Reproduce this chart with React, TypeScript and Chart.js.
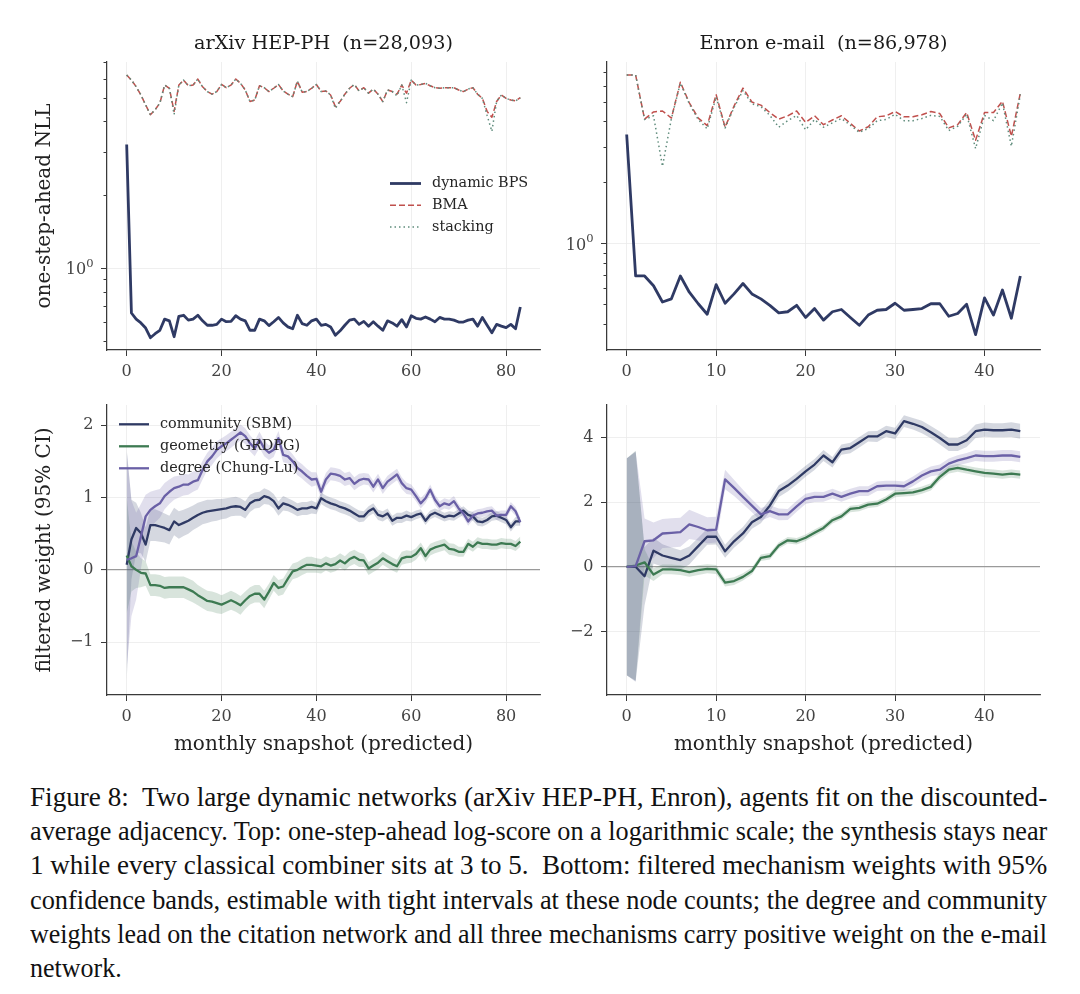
import React, { useEffect, useLayoutEffect, useRef } from 'react';
import { Chart, registerables } from 'chart.js';

Chart.register(...registerables);

// ---------------- data ----------------
const ARXIV_X_TICKS = [0, 20, 40, 60, 80];
const ENRON_X_TICKS = [0, 10, 20, 30, 40];
const LOG_TICKS_ARXIV = [0.5, 0.6, 0.7, 0.8, 0.9, 1, 2, 3, 4, 5, 6, 7];
const LOG_TICKS_ENRON = [0.4, 0.5, 0.6, 0.7, 0.8, 0.9, 1, 2, 3, 4, 5, 6, 7];
const LOG_MAJOR_LABEL = { base: '10', exp: '0' };
const W_TICKS_ARXIV = [-1, 0, 1, 2];
const W_TICKS_ENRON = [-2, 0, 2, 4];

const ARXIV_BPS = [
  3.23, 0.657, 0.62, 0.598, 0.57, 0.52, 0.54, 0.558, 0.62, 0.61,
  0.525, 0.637, 0.643, 0.614, 0.62, 0.643, 0.61, 0.585, 0.585, 0.59,
  0.62, 0.605, 0.607, 0.64, 0.62, 0.61, 0.558, 0.558, 0.62, 0.61,
  0.583, 0.605, 0.63, 0.598, 0.576, 0.566, 0.643, 0.594, 0.585, 0.61,
  0.62, 0.585, 0.59, 0.576, 0.532, 0.555, 0.585, 0.614, 0.62, 0.59,
  0.607, 0.58, 0.605, 0.58, 0.558, 0.61, 0.598, 0.58, 0.617, 0.576,
  0.64, 0.625, 0.62, 0.633, 0.62, 0.605, 0.63, 0.62, 0.62, 0.614,
  0.603, 0.603, 0.614, 0.62, 0.58, 0.63, 0.585, 0.545, 0.59, 0.58,
  0.572, 0.59, 0.566, 0.695,
];
const ARXIV_BMA = [
  6.23, 5.94, 5.58, 5.16, 4.70, 4.28, 4.49, 4.78, 5.67, 5.50,
  4.42, 5.67, 5.94, 5.63, 5.67, 6.00, 5.58, 5.33, 5.20, 5.33,
  5.70, 5.53, 5.67, 6.00, 5.76, 5.41, 4.85, 4.92, 5.63, 5.53,
  5.33, 5.50, 5.70, 5.36, 5.20, 5.08, 5.88, 5.30, 5.33, 5.50,
  5.70, 5.33, 5.36, 5.16, 4.63, 4.85, 5.20, 5.50, 5.70, 5.36,
  5.53, 5.25, 5.46, 5.20, 4.85, 5.41, 5.33, 5.20, 5.67, 5.25,
  5.94, 5.67, 5.70, 5.76, 5.63, 5.53, 5.50, 5.53, 5.53, 5.53,
  5.41, 5.33, 5.46, 5.53, 5.20, 5.00, 4.42, 4.18, 4.85, 5.16,
  5.00, 4.92, 4.88, 5.03,
];
const ARXIV_STACK = [
  6.23, 5.94, 5.58, 5.16, 4.70, 4.28, 4.49, 4.78, 5.67, 5.50,
  4.30, 5.67, 5.94, 5.63, 5.67, 6.00, 5.58, 5.33, 5.20, 5.33,
  5.70, 5.53, 5.67, 6.00, 5.76, 5.41, 4.85, 4.92, 5.63, 5.53,
  5.33, 5.50, 5.70, 5.36, 5.20, 5.08, 5.88, 5.30, 5.33, 5.50,
  5.70, 5.33, 5.36, 5.16, 4.55, 4.85, 5.20, 5.50, 5.70, 5.36,
  5.53, 5.25, 5.46, 5.20, 4.85, 5.41, 5.33, 5.12, 5.67, 4.80,
  5.94, 5.67, 5.70, 5.76, 5.63, 5.53, 5.50, 5.53, 5.53, 5.53,
  5.41, 5.33, 5.46, 5.53, 5.20, 5.00, 4.25, 3.66, 4.85, 5.16,
  5.00, 4.92, 4.88, 5.03,
];

const ENRON_BPS = [
  3.46, 0.695, 0.695, 0.622, 0.517, 0.536, 0.695, 0.578, 0.507, 0.45,
  0.63, 0.51, 0.567, 0.638, 0.567, 0.536, 0.498, 0.457, 0.463, 0.498,
  0.434, 0.48, 0.421, 0.463, 0.475, 0.434, 0.397, 0.446, 0.471, 0.475,
  0.51, 0.471, 0.475, 0.48, 0.507, 0.507, 0.44, 0.454, 0.504, 0.357,
  0.542, 0.446, 0.593, 0.43, 0.695,
];
const ENRON_BMA = [
  6.80, 6.80, 4.12, 4.47, 4.52, 4.17, 6.27, 4.96, 4.17, 3.83,
  5.44, 3.76, 4.78, 5.86, 5.00, 4.83, 4.44, 4.12, 4.28, 4.52,
  3.97, 4.28, 3.87, 4.08, 4.28, 3.93, 3.60, 3.78, 4.23, 4.28,
  4.49, 4.23, 4.23, 4.33, 4.49, 4.39, 3.73, 3.87, 4.44, 3.24,
  4.44, 4.44, 5.05, 3.39, 5.53,
];
const ENRON_STACK = [
  6.80, 6.80, 4.10, 4.28, 2.41, 4.15, 6.20, 4.90, 4.10, 3.69,
  5.30, 3.73, 4.70, 5.70, 4.90, 4.75, 4.30, 3.76, 4.05, 4.30,
  3.65, 4.10, 3.76, 3.95, 4.15, 3.85, 3.55, 3.70, 4.05, 4.10,
  4.35, 4.05, 4.05, 4.15, 4.30, 4.25, 3.62, 3.80, 4.35, 2.95,
  4.30, 4.05, 4.95, 3.03, 5.45,
];

const ARXIV_COMM = [
  0.07, 0.42, 0.58, 0.51, 0.35, 0.62, 0.62, 0.60, 0.58, 0.55,
  0.67, 0.62, 0.65, 0.68, 0.72, 0.76, 0.79, 0.81, 0.82, 0.83,
  0.84, 0.85, 0.87, 0.88, 0.87, 0.83, 0.92, 0.96, 0.97, 1.02,
  1.00, 0.95, 0.85, 0.92, 0.90, 0.87, 0.83, 0.85, 0.85, 0.87,
  0.85, 0.99, 0.95, 0.92, 0.90, 0.87, 0.85, 0.82, 0.78, 0.74,
  0.74, 0.81, 0.85, 0.76, 0.74, 0.78, 0.68, 0.72, 0.72, 0.75,
  0.73, 0.76, 0.78, 0.68, 0.76, 0.79, 0.76, 0.73, 0.75, 0.74,
  0.78, 0.82, 0.76, 0.74, 0.67, 0.66, 0.69, 0.74, 0.75, 0.72,
  0.69, 0.59, 0.67, 0.67,
];
const ARXIV_GEOM = [
  0.20, 0.05, 0.00, -0.04, -0.05, -0.21, -0.21, -0.22, -0.25, -0.24,
  -0.24, -0.24, -0.24, -0.27, -0.30, -0.35, -0.39, -0.43, -0.44, -0.46,
  -0.48, -0.45, -0.42, -0.45, -0.49, -0.42, -0.36, -0.33, -0.33, -0.41,
  -0.30, -0.18, -0.25, -0.23, -0.12, -0.02, 0.00, 0.04, 0.07, 0.07,
  0.06, 0.05, 0.09, 0.06, 0.08, 0.13, 0.09, 0.15, 0.18, 0.14,
  0.13, 0.02, 0.06, 0.10, 0.16, 0.12, 0.08, 0.05, 0.16, 0.18,
  0.18, 0.22, 0.30, 0.19, 0.28, 0.31, 0.33, 0.35, 0.29, 0.28,
  0.25, 0.25, 0.36, 0.32, 0.38, 0.36, 0.36, 0.35, 0.35, 0.37,
  0.36, 0.36, 0.33, 0.39,
];
const ARXIV_DEG = [
  0.14, 0.16, 0.19, 0.46, 0.74, 0.83, 0.88, 0.92, 1.02, 1.08,
  1.13, 1.15, 1.18, 1.18, 1.22, 1.24, 1.38, 1.50, 1.57, 1.66,
  1.71, 1.75, 1.80, 1.85, 1.90, 1.85, 1.75, 1.68, 1.80, 1.68,
  1.62, 1.66, 1.82, 1.59, 1.57, 1.50, 1.41, 1.36, 1.30, 1.25,
  1.26, 1.08, 1.25, 1.33, 1.32, 1.30, 1.25, 1.27, 1.19, 1.24,
  1.26, 1.25, 1.15, 1.25, 1.13, 1.22, 1.27, 1.32, 1.20, 1.13,
  1.11, 1.02, 0.92, 0.99, 1.11, 0.97, 0.88, 0.92, 0.90, 0.95,
  0.85, 0.78, 0.67, 0.75, 0.78, 0.79, 0.81, 0.82, 0.75, 0.76,
  0.76, 0.88, 0.81, 0.66,
];
const ARXIV_COMM_HW = [
  1.60, 0.55, 0.35, 0.28, 0.24, 0.22, 0.22, 0.21, 0.20, 0.20,
  0.19, 0.19, 0.18, 0.18, 0.17, 0.17, 0.16, 0.16, 0.15, 0.15,
  0.14, 0.14, 0.13, 0.13, 0.12, 0.12, 0.12, 0.11, 0.11, 0.11,
  0.10, 0.10, 0.10, 0.10, 0.09, 0.09, 0.09, 0.09, 0.09, 0.09,
  0.08, 0.08, 0.08, 0.08, 0.08, 0.08, 0.08, 0.08, 0.08, 0.08,
  0.07, 0.07, 0.07, 0.07, 0.07, 0.07, 0.07, 0.07, 0.07, 0.07,
  0.06, 0.06, 0.06, 0.06, 0.06, 0.06, 0.06, 0.06, 0.06, 0.06,
  0.06, 0.06, 0.06, 0.06, 0.06, 0.06, 0.06, 0.06, 0.06, 0.06,
  0.06, 0.06, 0.06, 0.06,
];
const ARXIV_GEOM_HW = [
  0.80, 0.35, 0.25, 0.20, 0.17, 0.15, 0.15, 0.15, 0.15, 0.15,
  0.15, 0.15, 0.15, 0.15, 0.15, 0.14, 0.14, 0.14, 0.14, 0.14,
  0.13, 0.13, 0.13, 0.13, 0.13, 0.12, 0.12, 0.12, 0.12, 0.12,
  0.11, 0.11, 0.11, 0.11, 0.11, 0.11, 0.11, 0.11, 0.11, 0.11,
  0.10, 0.10, 0.10, 0.10, 0.10, 0.10, 0.10, 0.10, 0.10, 0.10,
  0.09, 0.09, 0.09, 0.09, 0.09, 0.09, 0.09, 0.09, 0.09, 0.09,
  0.08, 0.08, 0.08, 0.08, 0.08, 0.08, 0.08, 0.08, 0.08, 0.08,
  0.07, 0.07, 0.07, 0.07, 0.07, 0.07, 0.07, 0.07, 0.07, 0.07,
  0.07, 0.07, 0.07, 0.07,
];
const ARXIV_DEG_HW = [
  1.50, 0.80, 0.60, 0.45, 0.30, 0.25, 0.22, 0.20, 0.18, 0.17,
  0.16, 0.15, 0.15, 0.14, 0.14, 0.13, 0.13, 0.12, 0.12, 0.12,
  0.11, 0.11, 0.11, 0.11, 0.11, 0.11, 0.11, 0.11, 0.11, 0.11,
  0.10, 0.10, 0.10, 0.10, 0.10, 0.10, 0.10, 0.10, 0.10, 0.10,
  0.09, 0.09, 0.09, 0.09, 0.09, 0.09, 0.09, 0.09, 0.09, 0.09,
  0.08, 0.08, 0.08, 0.08, 0.08, 0.08, 0.08, 0.08, 0.08, 0.08,
  0.07, 0.07, 0.07, 0.07, 0.07, 0.07, 0.07, 0.07, 0.07, 0.07,
  0.06, 0.06, 0.06, 0.06, 0.06, 0.06, 0.06, 0.06, 0.06, 0.06,
  0.06, 0.06, 0.06, 0.06,
];

const ENRON_COMM = [
  0.00, 0.00, -0.29, 0.50, 0.35, 0.28, 0.21, 0.35, 0.64, 0.93,
  0.93, 0.48, 0.79, 1.03, 1.38, 1.54, 1.89, 2.34, 2.51, 2.72,
  2.95, 3.16, 3.44, 3.23, 3.62, 3.67, 3.85, 4.03, 4.03, 4.19,
  4.12, 4.50, 4.42, 4.32, 4.16, 3.98, 3.78, 3.78, 3.91, 4.19,
  4.24, 4.22, 4.22, 4.24, 4.19,
];
const ENRON_GEOM = [
  0.00, 0.04, 0.14, -0.24, -0.08, -0.08, -0.10, -0.16, -0.10, -0.06,
  -0.08, -0.49, -0.44, -0.31, -0.13, 0.28, 0.33, 0.66, 0.82, 0.79,
  0.90, 1.05, 1.20, 1.44, 1.56, 1.79, 1.82, 1.92, 1.95, 2.08,
  2.26, 2.28, 2.30, 2.37, 2.47, 2.78, 3.00, 3.06, 3.00, 2.95,
  2.90, 2.88, 2.85, 2.88, 2.85,
];
const ENRON_DEG = [
  0.00, 0.02, 0.79, 0.82, 1.03, 1.05, 1.07, 1.31, 1.23, 1.13,
  1.15, 2.70, 2.44, 2.16, 1.89, 1.62, 1.72, 1.62, 1.62, 1.87,
  2.10, 2.16, 2.16, 2.26, 2.16, 2.26, 2.34, 2.34, 2.49, 2.51,
  2.51, 2.49, 2.64, 2.82, 2.95, 3.00, 3.19, 3.29, 3.36, 3.44,
  3.42, 3.42, 3.44, 3.44, 3.40,
];
const ENRON_COMM_HW = [
  3.35, 3.55, 0.90, 0.40, 0.35, 0.32, 0.30, 0.28, 0.26, 0.25,
  0.24, 0.20, 0.20, 0.20, 0.20, 0.19, 0.19, 0.18, 0.18, 0.18,
  0.17, 0.17, 0.17, 0.16, 0.16, 0.16, 0.16, 0.16, 0.17, 0.17,
  0.18, 0.18, 0.18, 0.19, 0.19, 0.20, 0.20, 0.20, 0.21, 0.21,
  0.22, 0.22, 0.22, 0.23, 0.23,
];
const ENRON_GEOM_HW = [
  3.35, 3.55, 0.40, 0.20, 0.15, 0.15, 0.15, 0.15, 0.15, 0.14,
  0.14, 0.12, 0.12, 0.11, 0.11, 0.10, 0.10, 0.10, 0.10, 0.10,
  0.10, 0.10, 0.10, 0.10, 0.10, 0.10, 0.10, 0.10, 0.10, 0.10,
  0.11, 0.11, 0.11, 0.11, 0.11, 0.12, 0.12, 0.12, 0.12, 0.12,
  0.13, 0.13, 0.13, 0.13, 0.13,
];
const ENRON_DEG_HW = [
  3.35, 3.55, 0.70, 0.55, 0.45, 0.45, 0.45, 0.45, 0.42, 0.40,
  0.40, 0.30, 0.25, 0.22, 0.20, 0.20, 0.18, 0.18, 0.17, 0.17,
  0.16, 0.16, 0.15, 0.15, 0.15, 0.15, 0.15, 0.15, 0.15, 0.15,
  0.15, 0.15, 0.15, 0.15, 0.15, 0.16, 0.16, 0.16, 0.16, 0.17,
  0.17, 0.17, 0.17, 0.17, 0.17,
];

const CAPTION_LINES = [
  'Figure 8:  Two large dynamic networks (arXiv HEP-PH, Enron), agents fit on the discounted-',
  'average adjacency. Top: one-step-ahead log-score on a logarithmic scale; the synthesis stays near',
  '1 while every classical combiner sits at 3 to 5.  Bottom: filtered mechanism weights with 95%',
  'confidence bands, estimable with tight intervals at these node counts; the degree and community',
  'weights lead on the citation network and all three mechanisms carry positive weight on the e-mail',
  'network.',
];

// ---------------- styles ----------------
const FONT = "'DejaVu Serif', serif";
const GRID = '#ebebeb';
const AXIS = '#3a3a3a';
const NAVY = '#2f3a64';
const GREEN = '#3d7a52';
const PURPLE = '#6a60a6';
const RED = '#c0504d';
const STACK = '#5f8c7c';
const TICK_LEN = 6;
const Y_PAD = 7.5;

const pts = (arr: number[]) => arr.map((v, i) => ({ x: i, y: v }));
const fmt = (v: number) => (v < 0 ? '\u2212' + Math.abs(v) : String(v));

const inlineLegend = {
  id: 'inlineLegend',
  afterDatasetsDraw(chart: any, _args: any, opts: any) {
    if (!opts || !opts.items) return;
    const ctx = chart.ctx;
    ctx.save();
    const items = opts.items;
    for (let k = 0; k < items.length; k++) {
      const it = items[k];
      const y = opts.y + k * opts.dy;
      ctx.beginPath();
      ctx.strokeStyle = it.color;
      ctx.lineWidth = it.width;
      ctx.setLineDash(it.dash ? [...it.dash] : []);
      ctx.moveTo(opts.x, y);
      ctx.lineTo(opts.x + opts.len, y);
      ctx.stroke();
      ctx.setLineDash([]);
      ctx.fillStyle = '#262626';
      ctx.font = `${opts.size}px ${FONT}`;
      ctx.textBaseline = 'middle';
      ctx.textAlign = 'left';
      ctx.fillText(it.label, opts.x + opts.len + opts.gap, y);
    }
    ctx.restore();
  },
};

// draws the "10^0" major label of the log axis with a real superscript
const superscriptLabel = {
  id: 'superscriptLabel',
  afterDraw(chart: any) {
    const s = chart.scales.y;
    if (!s || s.type !== 'logarithmic') return;
    const y = s.getPixelForValue(1);
    const ctx = chart.ctx;
    ctx.save();
    ctx.fillStyle = '#444';
    ctx.textBaseline = 'middle';
    ctx.textAlign = 'left';
    ctx.font = `11.5px ${FONT}`;
    const supW = ctx.measureText(LOG_MAJOR_LABEL.exp).width;
    ctx.font = `16px ${FONT}`;
    const baseW = ctx.measureText(LOG_MAJOR_LABEL.base).width;
    const right = s.right - TICK_LEN - Y_PAD;
    ctx.fillText(LOG_MAJOR_LABEL.base, right - supW - baseW, y + 1.5);
    ctx.font = `11.5px ${FONT}`;
    ctx.fillText(LOG_MAJOR_LABEL.exp, right - supW, y - 4.5);
    ctx.restore();
  },
};

function lineDs(label: string, values: number[], color: string, width: number, order: number, dash?: number[]) {
  return {
    label,
    data: pts(values),
    borderColor: color,
    backgroundColor: color,
    borderWidth: width,
    borderDash: dash || [],
    borderJoinStyle: 'round',
    pointRadius: 0,
    fill: false,
    tension: 0,
    order,
  };
}

function bandDs(values: number[], hw: number[], rgba: string, order: number) {
  const lo = values.map((v, i) => v - hw[i]);
  const hi = values.map((v, i) => v + hw[i]);
  return [
    { label: '_lo', data: pts(lo), borderColor: 'rgba(0,0,0,0)', borderWidth: 0, pointRadius: 0, fill: false, order },
    { label: '_hi', data: pts(hi), borderColor: 'rgba(0,0,0,0)', backgroundColor: rgba, borderWidth: 0, pointRadius: 0, fill: '-1', order },
  ];
}

function xScale(min: number, max: number, ticks: number[], height: number, title?: string) {
  return {
    type: 'linear',
    min,
    max,
    afterBuildTicks: (s: any) => { s.ticks = ticks.map((v) => ({ value: v })); },
    afterFit: (s: any) => { s.height = height; },
    grid: { color: GRID, lineWidth: 0.8, drawTicks: true, tickLength: TICK_LEN, tickColor: AXIS, tickWidth: 1 },
    border: { display: true, color: AXIS, width: 1.25 },
    ticks: { autoSkip: false, maxRotation: 0, padding: 6, color: '#444', font: { family: FONT, size: 16 }, callback: (v: number) => fmt(v) },
    title: title
      ? { display: true, text: title, color: '#222', font: { family: FONT, size: 20 }, padding: { top: 0, bottom: 3 } }
      : { display: false },
  };
}

function yTitle(title?: string) {
  return title
    ? { display: true, text: title, color: '#222', font: { family: FONT, size: 20 }, padding: { top: 33, bottom: 0 } }
    : { display: false };
}

function logY(min: number, max: number, ticks: number[], width: number, title?: string) {
  return {
    type: 'logarithmic',
    min,
    max,
    afterBuildTicks: (s: any) => { s.ticks = ticks.map((v) => ({ value: v })); },
    afterFit: (s: any) => { s.width = width; },
    grid: {
      color: (c: any) => (c.tick && c.tick.value === 1 ? GRID : 'rgba(0,0,0,0)'),
      lineWidth: 0.8,
      tickLength: TICK_LEN,
      tickColor: AXIS,
      tickWidth: 1,
      tickBorderDash: (c: any) => (c.tick && c.tick.value === 1 ? [] : [0, 2.5, 3.5, 30]),
    },
    border: { display: true, color: AXIS, width: 1.25 },
    ticks: { autoSkip: false, padding: Y_PAD, color: '#444', font: { family: FONT, size: 16 }, callback: () => '' },
    title: yTitle(title),
  };
}

function linY(min: number, max: number, ticks: number[], width: number, title?: string) {
  return {
    type: 'linear',
    min,
    max,
    afterBuildTicks: (s: any) => { s.ticks = ticks.map((v) => ({ value: v })); },
    afterFit: (s: any) => { s.width = width; },
    grid: {
      color: (c: any) => (c.tick && c.tick.value === 0 ? '#9a9a9a' : GRID),
      lineWidth: (c: any) => (c.tick && c.tick.value === 0 ? 1.2 : 0.8),
      tickLength: TICK_LEN,
      tickColor: AXIS,
      tickWidth: 1,
    },
    border: { display: true, color: AXIS, width: 1.25 },
    ticks: { autoSkip: false, padding: Y_PAD, color: '#444', font: { family: FONT, size: 16 }, callback: (v: number) => fmt(v) },
    title: yTitle(title),
  };
}

function baseOptions(padTop: number, scales: any, title: string | null, legend: any) {
  return {
    responsive: false,
    animation: false,
    devicePixelRatio: 1,
    layout: { padding: { top: padTop, right: 5, left: 0, bottom: 0 } },
    plugins: {
      legend: { display: false },
      tooltip: { enabled: false },
      title: title
        ? { display: true, fullSize: false, text: title, color: '#1a1a1a', font: { family: FONT, size: 19.2, weight: 'normal' }, padding: { top: 0, bottom: 6.96 } }
        : { display: false },
      inlineLegend: legend || {},
    },
    scales,
  };
}

function topConfig(which: 'arxiv' | 'enron') {
  const isA = which === 'arxiv';
  const n = isA ? 83 : 44;
  const datasets = [
    lineDs('dynamic BPS', isA ? ARXIV_BPS : ENRON_BPS, NAVY, 2.8, 2),
    lineDs('BMA', isA ? ARXIV_BMA : ENRON_BMA, RED, 1.5, 1, [6, 3]),
    lineDs('stacking', isA ? ARXIV_STACK : ENRON_STACK, STACK, 1.5, 0, [1.5, 3]),
  ];
  const legend = isA
    ? {
        x: 390, y: 183.5, dy: 21.8, len: 31, gap: 11, size: 14.4,
        items: [
          { label: 'dynamic BPS', color: NAVY, width: 2.8 },
          { label: 'BMA', color: RED, width: 1.5, dash: [6, 3] },
          { label: 'stacking', color: STACK, width: 1.5, dash: [1.5, 3] },
        ],
      }
    : null;
  return {
    type: 'line',
    data: { datasets },
    options: baseOptions(
      32,
      {
        x: xScale(-0.05 * n, n * 1.05, isA ? ARXIV_X_TICKS : ENRON_X_TICKS, 30),
        y: isA
          ? logY(0.463, 7.05, LOG_TICKS_ARXIV, 107, 'one-step-ahead NLL')
          : logY(0.308, 7.88, LOG_TICKS_ENRON, 57),
      },
      isA ? 'arXiv HEP-PH  (n=28,093)' : 'Enron e-mail  (n=86,978)',
      legend,
    ),
    plugins: [inlineLegend, superscriptLabel],
  };
}

function bottomConfig(which: 'arxiv' | 'enron') {
  const isA = which === 'arxiv';
  const n = isA ? 83 : 44;
  const comm = isA ? ARXIV_COMM : ENRON_COMM;
  const geom = isA ? ARXIV_GEOM : ENRON_GEOM;
  const deg = isA ? ARXIV_DEG : ENRON_DEG;
  const datasets = [
    ...bandDs(comm, isA ? ARXIV_COMM_HW : ENRON_COMM_HW, 'rgba(47,58,100,0.2)', 12),
    ...bandDs(geom, isA ? ARXIV_GEOM_HW : ENRON_GEOM_HW, 'rgba(61,122,82,0.2)', 11),
    ...bandDs(deg, isA ? ARXIV_DEG_HW : ENRON_DEG_HW, 'rgba(106,96,166,0.2)', 10),
    lineDs('community (SBM)', comm, NAVY, 2.3, 2),
    lineDs('geometry (GRDPG)', geom, GREEN, 2.3, 1),
    lineDs('degree (Chung-Lu)', deg, PURPLE, 2.3, 0),
  ];
  const legend = isA
    ? {
        x: 119, y: 39.3, dy: 22, len: 30, gap: 11, size: 14.4,
        items: [
          { label: 'community (SBM)', color: NAVY, width: 2.3 },
          { label: 'geometry (GRDPG)', color: GREEN, width: 2.3 },
          { label: 'degree (Chung-Lu)', color: PURPLE, width: 2.3 },
        ],
      }
    : null;
  return {
    type: 'line',
    data: { datasets },
    options: baseOptions(
      20,
      {
        x: xScale(-0.05 * n, n * 1.05, isA ? ARXIV_X_TICKS : ENRON_X_TICKS, 65, 'monthly snapshot (predicted)'),
        y: isA
          ? linY(-1.73, 2.28, W_TICKS_ARXIV, 107, 'filtered weight (95% CI)')
          : linY(-3.96, 5.0, W_TICKS_ENRON, 57),
      },
      null,
      legend,
    ),
    plugins: [inlineLegend],
  };
}

function Panel({ left, top, width, height, make }: { left: number; top: number; width: number; height: number; make: () => any }) {
  const ref = useRef<HTMLCanvasElement | null>(null);
  useEffect(() => {
    if (!ref.current) return;
    const chart = new Chart(ref.current, make());
    return () => chart.destroy();
  }, []);
  return (
    <canvas
      ref={ref}
      width={width}
      height={height}
      style={{ position: 'absolute', left, top, width, height, display: 'block' }}
    />
  );
}

function Caption() {
  const refs = useRef<(HTMLSpanElement | null)[]>([]);
  useLayoutEffect(() => {
    const target = 1017;
    let last = 1;
    refs.current.forEach((el, i) => {
      if (!el) return;
      const w = el.offsetWidth;
      if (i < CAPTION_LINES.length - 1 && w > 0) {
        last = target / w;
        el.style.transform = `scaleX(${last})`;
      } else {
        el.style.transform = `scaleX(${last})`;
      }
    });
  }, []);
  return (
    <div
      style={{
        position: 'absolute',
        left: 30,
        top: 780,
        fontFamily: "'Liberation Serif', 'Times New Roman', serif",
        fontSize: 26.5,
        lineHeight: '34.2px',
        color: '#111',
      }}
    >
      {CAPTION_LINES.map((t, i) => (
        <div key={i} style={{ height: 34.2, whiteSpace: 'pre' }}>
          <span
            ref={(el) => { refs.current[i] = el; }}
            style={{ display: 'inline-block', whiteSpace: 'pre', transformOrigin: '0 0' }}
          >
            {t}
          </span>
        </div>
      ))}
    </div>
  );
}

export default function App() {
  return (
    <div style={{ position: 'absolute', left: 0, top: 0, width: 1080, height: 994, background: '#fff', overflow: 'hidden' }}>
      <Panel left={0} top={0} width={545} height={380} make={() => topConfig('arxiv')} />
      <Panel left={550} top={0} width={495} height={380} make={() => topConfig('enron')} />
      <Panel left={0} top={385} width={545} height={375} make={() => bottomConfig('arxiv')} />
      <Panel left={550} top={385} width={495} height={375} make={() => bottomConfig('enron')} />
      <Caption />
    </div>
  );
}
